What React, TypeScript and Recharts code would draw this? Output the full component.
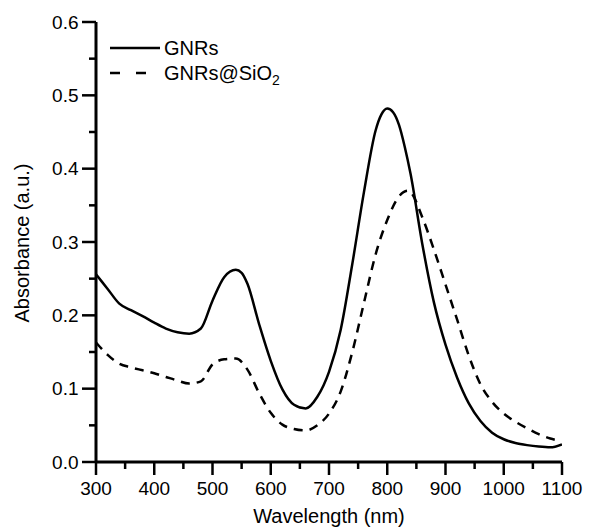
import React from "react";
import { LineChart, Line, XAxis, YAxis } from "recharts";

const gnrsWl = [300, 320, 340, 360, 380, 400, 420, 440, 460, 480, 500, 520, 540, 550, 560, 580, 600, 620, 640, 660, 680, 700, 720, 740, 760, 780, 790, 800, 810, 820, 830, 840, 860, 880, 900, 920, 940, 960, 980, 1000, 1020, 1040, 1060, 1080, 1100];
const gnrsAbs = [0.256, 0.236, 0.216, 0.207, 0.199, 0.190, 0.182, 0.177, 0.175, 0.182, 0.220, 0.252, 0.262, 0.258, 0.243, 0.188, 0.138, 0.099, 0.078, 0.073, 0.089, 0.123, 0.180, 0.270, 0.368, 0.452, 0.474, 0.482, 0.477, 0.460, 0.430, 0.393, 0.298, 0.218, 0.160, 0.115, 0.080, 0.056, 0.040, 0.031, 0.026, 0.023, 0.021, 0.020, 0.024];

const silicaWl = [300, 320, 340, 360, 380, 400, 420, 440, 460, 480, 500, 520, 540, 560, 580, 600, 620, 640, 660, 680, 700, 720, 740, 760, 780, 800, 820, 835, 840, 860, 880, 900, 920, 940, 960, 980, 1000, 1020, 1040, 1060, 1080, 1090];
const silicaAbs = [0.163, 0.146, 0.134, 0.129, 0.125, 0.121, 0.116, 0.111, 0.107, 0.110, 0.133, 0.140, 0.141, 0.126, 0.094, 0.067, 0.051, 0.045, 0.043, 0.050, 0.066, 0.096, 0.150, 0.217, 0.283, 0.330, 0.362, 0.370, 0.368, 0.334, 0.290, 0.242, 0.194, 0.145, 0.106, 0.082, 0.066, 0.055, 0.046, 0.038, 0.032, 0.030];

const xTicks = [300, 350, 400, 450, 500, 550, 600, 650, 700, 750, 800, 850, 900, 950, 1000, 1050, 1100];
const yTicks = [0, 0.05, 0.1, 0.15, 0.2, 0.25, 0.3, 0.35, 0.4, 0.45, 0.5, 0.55, 0.6];

const legendNames = ["GNRs", "GNRs@SiO"];
const xTitle = "Wavelength (nm)";
const yTitle = "Absorbance (a.u.)";

const gnrsData = gnrsWl.map((w, i) => ({ wl: w, a: gnrsAbs[i] }));
const silicaData = silicaWl.map((w, i) => ({ wl: w, a: silicaAbs[i] }));

const FONT = "'Liberation Sans', Arial, sans-serif";

const XTick = (props: any) => {
  const { x, y, payload } = props;
  const v = payload.value;
  const major = v % 100 === 0;
  return (
    <g>
      <line x1={x} y1={y} x2={x} y2={y + (major ? 13 : 7)} stroke="#000" strokeWidth={2.5} />
      {major && (
        <text x={x} y={y + 33} textAnchor="middle" fontSize={19} fontFamily={FONT} fill="#000">
          {v}
        </text>
      )}
    </g>
  );
};

const YTick = (props: any) => {
  const { x, y, payload } = props;
  const v = payload.value;
  const major = Math.round(v * 100) % 10 === 0;
  return (
    <g>
      <line x1={x} y1={y} x2={x - (major ? 14 : 7)} y2={y} stroke="#000" strokeWidth={2.5} />
      {major && (
        <text x={x - 17.5} y={y} dy="0.35em" textAnchor="end" fontSize={19} fontFamily={FONT} fill="#000">
          {v.toFixed(1)}
        </text>
      )}
    </g>
  );
};

export default function App() {
  return (
    <div style={{ position: "relative", width: 595, height: 529, background: "#fff" }}>
      <style>{"body{margin:0;}"}</style>
      <LineChart width={595} height={529} margin={{ top: 22, right: 33, left: 0, bottom: 0 }}>
        <XAxis
          dataKey="wl"
          type="number"
          domain={[300, 1100]}
          ticks={xTicks}
          interval={0}
          allowDataOverflow
          height={67}
          tickSize={0}
          tickMargin={0}
          tickLine={false}
          tick={<XTick />}
          axisLine={{ stroke: "#000", strokeWidth: 3 }}
        />
        <YAxis
          type="number"
          domain={[0, 0.6]}
          ticks={yTicks}
          interval={0}
          allowDataOverflow
          width={96}
          tickSize={0}
          tickMargin={0}
          tickLine={false}
          tick={<YTick />}
          axisLine={{ stroke: "#000", strokeWidth: 3 }}
        />
        <Line
          data={gnrsData}
          dataKey="a"
          type="monotone"
          stroke="#000"
          strokeWidth={2.5}
          dot={false}
          isAnimationActive={false}
        />
        <Line
          data={silicaData}
          dataKey="a"
          type="monotone"
          stroke="#000"
          strokeWidth={2.5}
          strokeDasharray="9 7"
          dot={false}
          isAnimationActive={false}
        />
      </LineChart>
      <svg width={595} height={529} style={{ position: "absolute", left: 0, top: 0, pointerEvents: "none" }}>
        <line x1={110} y1={48} x2={160} y2={48} stroke="#000" strokeWidth={2.5} />
        <text x={164} y={48} dy="0.35em" fontSize={20} fontFamily={FONT} fill="#000">
          {legendNames[0]}
        </text>
        <line x1={110} y1={73} x2={160} y2={73} stroke="#000" strokeWidth={2.5} strokeDasharray="10 16" />
        <text x={164} y={73} dy="0.35em" fontSize={20} fontFamily={FONT} fill="#000">
          {legendNames[1]}
          <tspan dy={5} fontSize={14}>2</tspan>
        </text>
        <text x={329} y={523} textAnchor="middle" fontSize={20} fontFamily={FONT} fill="#000">
          {xTitle}
        </text>
        <text
          x={29}
          y={243}
          textAnchor="middle"
          fontSize={20}
          fontFamily={FONT}
          fill="#000"
          transform="rotate(-90 29 243)"
        >
          {yTitle}
        </text>
      </svg>
    </div>
  );
}
